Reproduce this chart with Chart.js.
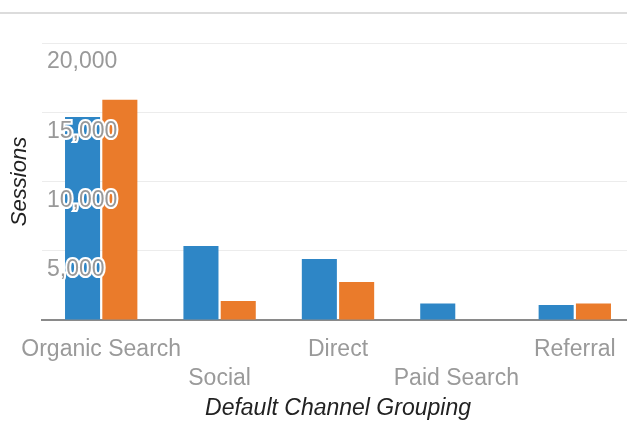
<!DOCTYPE html>
<html>
<head>
<meta charset="utf-8">
<script src="https://cdn.jsdelivr.net/npm/chart.js@4"></script>
<style>
  html, body { margin: 0; padding: 0; background: #fff; overflow: hidden; }
  #wrap { position: relative; width: 627px; height: 421px; overflow: hidden; }
  #topline { position: absolute; left: 0; top: 12px; width: 100%; height: 2px; background: #dcdcdc; }
  #chart { position: absolute; left: 0; top: 0; }
</style>
</head>
<body>
<div id="wrap">
  <div id="topline"></div>
  <canvas id="chart" width="640" height="421"></canvas>
</div>
<script>
// Values
const categories = ['Organic Search', 'Social', 'Direct', 'Paid Search', 'Referral'];
const blueSessions = [14650, 5340, 4400, 1200, 1080];
const orangeSessions = [15900, 1370, 2740, 30, 1200];
const yMax = 20000;
const yStep = 5000;

// labels alternate between two rows, like the original axis
const staggered = categories.map((c, i) => i % 2 === 0 ? [c, ''] : ['', c]);

const font = 'Liberation Sans, Arial, sans-serif';

new Chart(document.getElementById('chart'), {
  type: 'bar',
  data: {
    labels: staggered,
    datasets: [{
      label: 'Sessions',
      data: blueSessions,
      backgroundColor: '#2e86c6',
      barPercentage: 0.94,
      categoryPercentage: 0.63
    },
    {
      label: 'Sessions (previous)',
      data: orangeSessions,
      backgroundColor: '#ea7b2b',
      barPercentage: 0.94,
      categoryPercentage: 0.63
    }]
  },
  options: {
    responsive: false,
    animation: false,
    layout: { padding: { top: 43, left: 3, right: 6, bottom: 0 } },
    plugins: {
      legend: { display: false },
      tooltip: { enabled: true }
    },
    scales: {
      x: {
        grid: { display: false, drawTicks: false },
        border: { display: true, color: '#8a8a8a', width: 2 },
        afterFit: s => { s.height = 101; },
        ticks: {
          autoSkip: false,
          maxRotation: 0,
          padding: 15,
          color: '#9a9a9a',
          font: { family: font, size: 23, lineHeight: 1.26 }
        },
        title: {
          display: true,
          text: 'Default Channel Grouping',
          color: '#222',
          padding: { top: 4, bottom: 0 },
          font: { family: font, size: 23, style: 'italic', lineHeight: 1.1 }
        }
      },
      y: {
        min: 0,
        max: yMax,
        grid: { color: '#ececec', drawTicks: false },
        border: { display: false },
        afterFit: s => { s.width = 39; },
        ticks: { stepSize: yStep, display: false },
        title: {
          display: true,
          text: 'Sessions',
          color: '#222',
          padding: { top: 4, bottom: 3 },
          font: { family: font, size: 22, style: 'italic', lineHeight: 1.2 }
        }
      },
      // same range, only draws the tick labels on top of the bars
      yLabels: {
        type: 'linear',
        position: 'left',
        weight: -1,
        min: 0,
        max: yMax,
        grid: { display: false, drawTicks: false },
        border: { display: false },
        afterFit: s => { s.width = 0; },
        ticks: {
          z: 1,
          stepSize: yStep,
          mirror: true,
          padding: 5,
          labelOffset: 19,
          color: '#999',
          textStrokeColor: '#fff',
          textStrokeWidth: 4,
          font: { family: font, size: 23 },
          callback: v => v === 0 ? '' : v.toLocaleString('en-US')
        }
      }
    }
  }
});
</script>
</body>
</html>
